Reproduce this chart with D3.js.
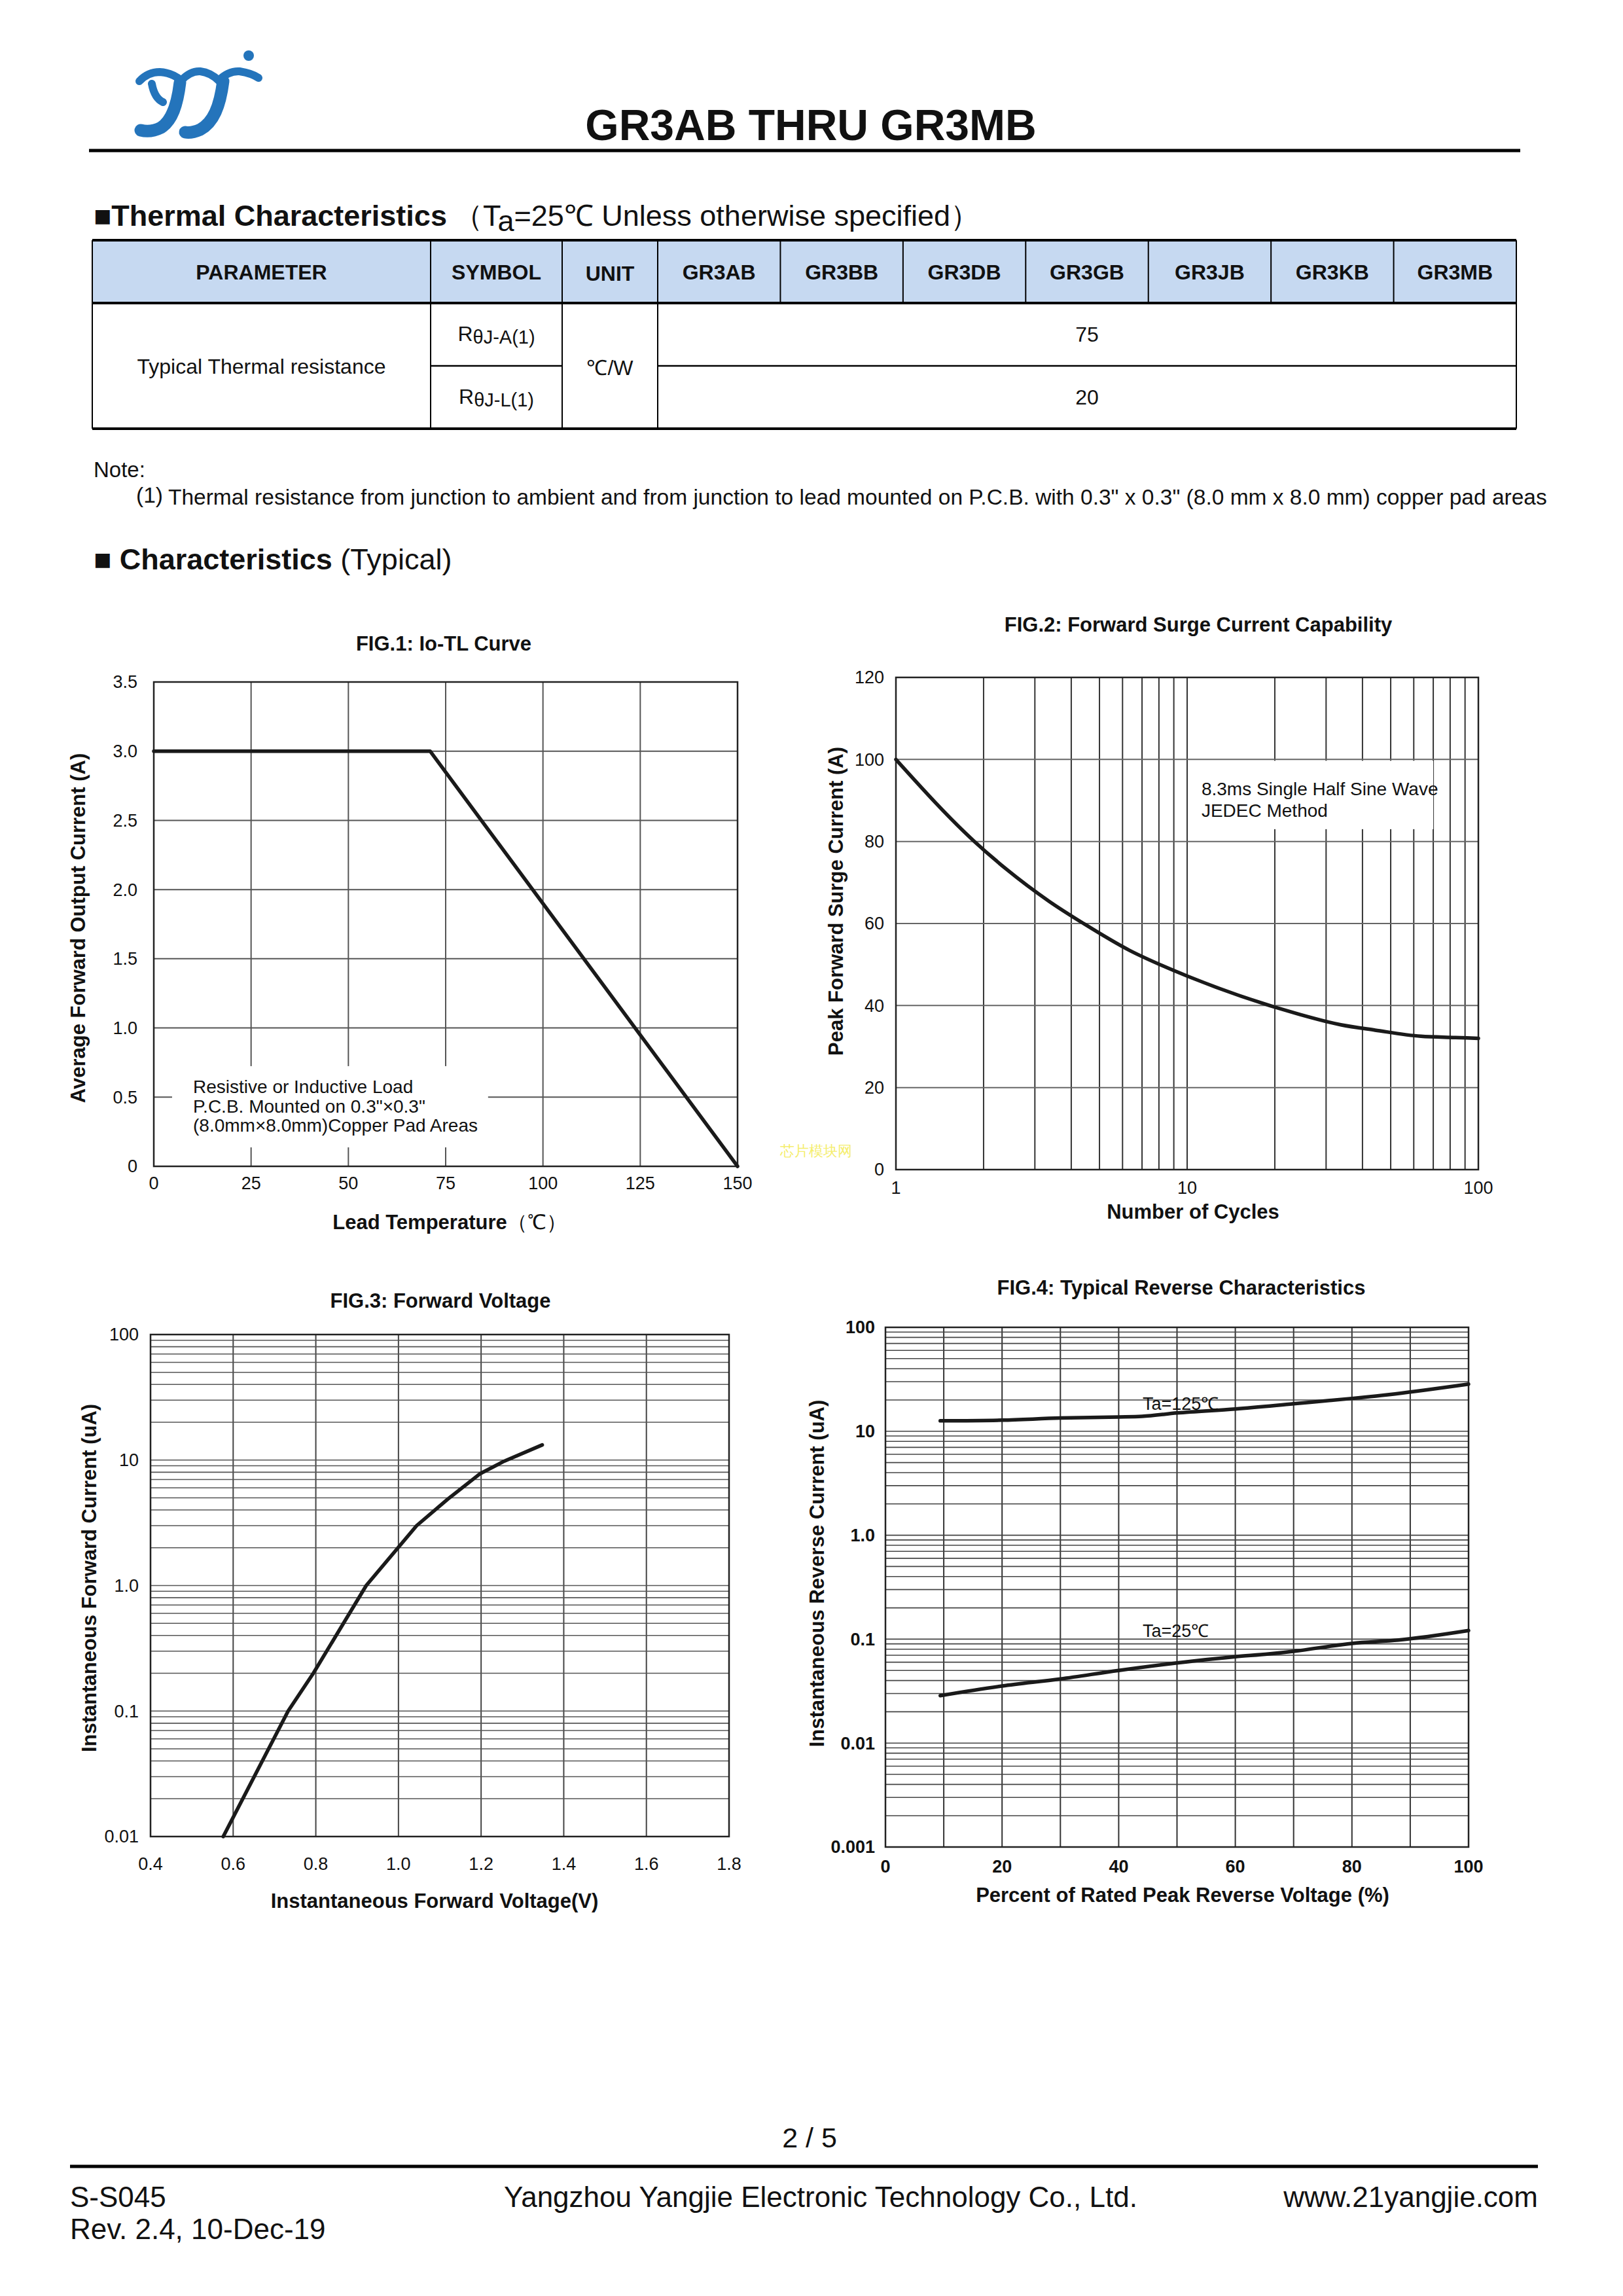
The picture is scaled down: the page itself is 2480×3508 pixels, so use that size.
<!DOCTYPE html>
<html><head><meta charset="utf-8">
<script src="https://cdn.jsdelivr.net/npm/d3@7"></script>
<style>
body{margin:0;background:#fff}
svg text{font-family:'Liberation Sans',Arial,Helvetica,sans-serif;fill:#111}
</style>
</head><body>
<svg id="page" width="2480" height="3508" xmlns="http://www.w3.org/2000/svg"></svg>
<script>
// ---------------- DATA ----------------
const tableHeaders = ["PARAMETER","SYMBOL","UNIT","GR3AB","GR3BB","GR3DB","GR3GB","GR3JB","GR3KB","GR3MB"];
const thermalParameter = "Typical Thermal resistance";
const thermalSymbolSubs = ["θJ-A(1)","θJ-L(1)"];
const thermalUnit = "℃/W";
const thermalValues = [75, 20];

// FIG.1 Io-TL curve
const fig1Temp = [0, 71, 150];
const fig1Current = [3.0, 3.0, 0];
const fig1XTicks = [0, 25, 50, 75, 100, 125, 150];
const fig1YTicks = [0, 0.5, 1.0, 1.5, 2.0, 2.5, 3.0, 3.5];
const fig1YLabels = ["0","0.5","1.0","1.5","2.0","2.5","3.0","3.5"];

// FIG.2 Forward surge current
const fig2Cycles = [1, 1.86, 2.39, 3.36, 4.41, 6.36, 8.36, 10, 23.9, 33.7, 44.2, 63.5, 83.4, 100];
const fig2Current = [100, 80, 73.3, 65.4, 60, 53.4, 49.5, 47.2, 38, 35.3, 34, 32.5, 32.2, 32];
const fig2XGrid = [2,3,4,5,6,7,8,9,10,20,30,40,50,60,70,80,90];
const fig2XTicks = [1, 10, 100];
const fig2YTicks = [0, 20, 40, 60, 80, 100, 120];

// FIG.3 Forward voltage
const fig3Voltage = [0.576, 0.733, 0.794, 0.922, 1.044, 1.12, 1.198, 1.256, 1.348];
const fig3Current = [0.01, 0.1, 0.2, 1.0, 3.0, 4.9, 7.8, 9.8, 13.2];
const fig3XTicks = [0.4, 0.6, 0.8, 1.0, 1.2, 1.4, 1.6, 1.8];
const fig3XLabels = ["0.4","0.6","0.8","1.0","1.2","1.4","1.6","1.8"];
const fig3YTicks = [0.01, 0.1, 1, 10, 100];
const fig3YLabels = ["0.01","0.1","1.0","10","100"];

// FIG.4 Reverse characteristics
const fig4Percent125 = [9.4, 20, 30, 40, 44, 50, 60, 70, 80, 87.4, 100];
const fig4Current125 = [12.6, 12.8, 13.4, 13.7, 13.9, 15.0, 16.4, 18.4, 20.7, 22.9, 28.4];
const fig4Percent25 = [9.4, 20, 30, 40, 50, 60, 65.7, 70, 80, 88, 100];
const fig4Current25 = [0.0286, 0.0354, 0.0414, 0.050, 0.059, 0.0677, 0.072, 0.0764, 0.091, 0.098, 0.121];
const fig4XTicks = [0, 20, 40, 60, 80, 100];
const fig4XGrid = [10, 20, 30, 40, 50, 60, 70, 80, 90];
const fig4YTicks = [0.001, 0.01, 0.1, 1, 10, 100];
const fig4YLabels = ["0.001","0.01","0.1","1.0","10","100"];

// ---------------- DRAW ----------------
const svg = d3.select("#page");
const INK = "#1a1a1a";

function logMinors(lo, hi){ const out=[]; for(let e=lo;e<hi;e++){for(let k=1;k<10;k++){out.push(k*Math.pow(10,e));}} out.push(Math.pow(10,hi)); return out; }

// ---- Header / logo ----
const BLUE = "#2474BB";
const logo = svg.append("g").attr("fill","none").attr("stroke",BLUE).attr("stroke-linecap","round");
logo.append("path").attr("stroke-width",12).attr("d","M213,124 Q226,110 244,110 Q263,111 277,123 Q291,108 306,109 Q322,111 334,123 Q349,108 366,109 Q385,112 395,119");
logo.append("path").attr("stroke-width",12).attr("d","M232,128 Q236,150 249,156");
logo.append("path").attr("stroke-width",19).attr("d","M275,126 C271,160 263,184 246,195 Q230,203 215,199");
logo.append("path").attr("stroke-width",19).attr("d","M341,124 C336,163 326,187 306,198 Q292,204 283,202");
svg.append("circle").attr("cx",380).attr("cy",85).attr("r",8).attr("fill",BLUE);

svg.append("text").attr("x",1239).attr("y",214).attr("text-anchor","middle")
  .attr("font-size",66).attr("font-weight","bold").text("GR3AB THRU GR3MB");
svg.append("line").attr("x1",136).attr("x2",2323).attr("y1",230).attr("y2",230).attr("stroke","#000").attr("stroke-width",5);

// ---- Thermal section title ----
const st = svg.append("text").attr("x",143).attr("y",345).attr("font-size",45);
st.append("tspan").attr("font-weight","bold").text("■Thermal Characteristics");
st.append("tspan").attr("dx",10).text("（T");
st.append("tspan").attr("dy",8).text("a");
st.append("tspan").attr("dy",-8).text("=25℃ Unless otherwise specified）");

// ---- Table ----
const colX = [141, 658, 859, 1005];
const gW = (2317-1005)/7;
for(let i=1;i<=7;i++) colX.push(1005+gW*i);
const rowY = [367, 463, 559, 655];
const tb = svg.append("g");
tb.append("rect").attr("x",colX[0]).attr("y",rowY[0]).attr("width",colX[10]-colX[0]).attr("height",rowY[1]-rowY[0]).attr("fill","#C6D9F1");
colX.forEach((cx,i)=>{
  const full = i<=3 || i===10;
  tb.append("line").attr("x1",cx).attr("x2",cx).attr("y1",rowY[0]).attr("y2", full?rowY[3]:rowY[1]).attr("stroke","#000").attr("stroke-width",2);
});
[0,1,3].forEach(r=>tb.append("line").attr("x1",colX[0]).attr("x2",colX[10]).attr("y1",rowY[r]).attr("y2",rowY[r]).attr("stroke","#000").attr("stroke-width",4));
tb.append("line").attr("x1",colX[1]).attr("x2",colX[2]).attr("y1",rowY[2]).attr("y2",rowY[2]).attr("stroke","#000").attr("stroke-width",2.5);
tb.append("line").attr("x1",colX[3]).attr("x2",colX[10]).attr("y1",rowY[2]).attr("y2",rowY[2]).attr("stroke","#000").attr("stroke-width",2.5);
tableHeaders.forEach((h,i)=>{
  tb.append("text").attr("x",(colX[i]+colX[i+1])/2).attr("y",(i===2?429:427)).attr("text-anchor","middle")
    .attr("font-size",32).attr("font-weight","bold").text(h);
});
tb.append("text").attr("x",(colX[0]+colX[1])/2).attr("y",571).attr("text-anchor","middle").attr("font-size",32).text(thermalParameter);
tb.append("text").attr("x",(colX[2]+colX[3])/2).attr("y",573).attr("text-anchor","middle").attr("font-size",32).text(thermalUnit);
thermalValues.forEach((v,i)=>{
  const cy = (rowY[i+1]+rowY[i+2])/2;
  const s = tb.append("text").attr("x",(colX[1]+colX[2])/2).attr("y",cy+10).attr("text-anchor","middle").attr("font-size",32);
  s.append("tspan").text("R");
  s.append("tspan").attr("font-size",29).attr("dy",4).text(thermalSymbolSubs[i]);
  tb.append("text").attr("x",(colX[3]+colX[10])/2).attr("y",cy+11).attr("text-anchor","middle").attr("font-size",32).text(v);
});

// ---- Note ----
svg.append("text").attr("x",143).attr("y",729).attr("font-size",33).text("Note:");
const nt = svg.append("text").attr("x",208).attr("y",771).attr("font-size",33.5);
nt.append("tspan").attr("dy",-3).text("(1)");
nt.append("tspan").attr("dy",3).attr("dx",8).text("Thermal resistance from junction to ambient and from junction to lead mounted on P.C.B. with 0.3\" x 0.3\" (8.0 mm x 8.0 mm) copper pad areas");

// ---- Characteristics title ----
const ct = svg.append("text").attr("x",143).attr("y",870).attr("font-size",45);
ct.append("tspan").attr("font-weight","bold").text("■ Characteristics");
ct.append("tspan").text(" (Typical)");

// ---------- generic helpers ----------
function hLines(g, vals, x, y, color, w){
  g.selectAll(null).data(vals).join("line").attr("x1",x.range()[0]).attr("x2",x.range()[1])
    .attr("y1",d=>y(d)).attr("y2",d=>y(d)).attr("stroke",color).attr("stroke-width",w);
}
function vLines(g, vals, x, y, color, w){
  g.selectAll(null).data(vals).join("line").attr("y1",y.range()[0]).attr("y2",y.range()[1])
    .attr("x1",d=>x(d)).attr("x2",d=>x(d)).attr("stroke",color).attr("stroke-width",w);
}
function frame(g,x,y){
  g.append("rect").attr("x",x.range()[0]).attr("y",y.range()[1]).attr("width",x.range()[1]-x.range()[0])
   .attr("height",y.range()[0]-y.range()[1]).attr("fill","none").attr("stroke","#222").attr("stroke-width",2.5);
}
function curve(g, xs, ys, x, y, c){
  const pts = xs.map((v,i)=>[v, ys[i]]);
  g.append("path").datum(pts).attr("fill","none").attr("stroke",INK).attr("stroke-width",5.5)
   .attr("stroke-linejoin","round").attr("stroke-linecap","round")
   .attr("d", d3.line().x(d=>x(d[0])).y(d=>y(d[1])).curve(c||d3.curveLinear));
}
function yLabels(g, vals, labels, x0, y, bold){
  g.selectAll(null).data(vals).join("text").attr("x",x0).attr("y",d=>y(d)).attr("dy","0.35em")
    .attr("text-anchor","end").attr("font-size",27).attr("font-weight",bold?"bold":"normal").text((d,i)=>labels[i]);
}
function xLabels(g, vals, labels, x, yb, bold){
  g.selectAll(null).data(vals).join("text").attr("x",d=>x(d)).attr("y",yb)
    .attr("text-anchor","middle").attr("font-size",27).attr("font-weight",bold?"bold":"normal").text((d,i)=>labels[i]);
}
const TFS = 31;
function title(txt, cx, y){ svg.append("text").attr("x",cx).attr("y",y).attr("text-anchor","middle").attr("font-size",TFS).attr("font-weight","bold").text(txt); }
function yTitle(txt, cx, cy){ svg.append("text").attr("transform",`translate(${cx},${cy}) rotate(-90)`).attr("dy","0.35em").attr("text-anchor","middle").attr("font-size",TFS).attr("font-weight","bold").text(txt); }
function xTitle(txt, cx, y){ return svg.append("text").attr("x",cx).attr("y",y).attr("text-anchor","middle").attr("font-size",TFS).attr("font-weight","bold").text(txt); }

// ---------- FIG.1 ----------
{
  const x = d3.scaleLinear().domain([0,150]).range([235,1127]);
  const y = d3.scaleLinear().domain([0,3.5]).range([1782,1042]);
  const g = svg.append("g");
  vLines(g, fig1XTicks, x, y, "#555", 2);
  hLines(g, fig1YTicks, x, y, "#555", 2);
  g.append("rect").attr("x",x(4.7)).attr("y",y(0.724)).attr("width",x(85.9)-x(4.7)).attr("height",y(0.137)-y(0.724)).attr("fill","#fff");
  frame(g,x,y);
  curve(g, fig1Temp, fig1Current, x, y);
  const ann = ["Resistive or Inductive Load","P.C.B. Mounted on 0.3\"×0.3\"","(8.0mm×8.0mm)Copper Pad Areas"];
  const annY = [0.53, 0.39, 0.25];
  g.selectAll(null).data(ann).join("text").attr("x",x(10.1)).attr("y",(d,i)=>y(annY[i])).attr("font-size",28).attr("fill","#222").text(d=>d);
  yLabels(g, fig1YTicks, fig1YLabels, 210, y);
  xLabels(g, fig1XTicks, fig1XTicks.map(String), x, 1817);
  title("FIG.1: Io-TL Curve", 678, 994);
  xTitle("Lead Temperature", 687, 1878).append("tspan").attr("font-weight","normal").text("（℃）");
  yTitle("Average Forward Output Current (A)", 119, 1418);
}

// ---------- FIG.2 ----------
{
  const x = d3.scaleLog().domain([1,100]).range([1369,2259]);
  const y = d3.scaleLinear().domain([0,120]).range([1787,1035]);
  const g = svg.append("g");
  vLines(g, fig2XGrid, x, y, "#333", 2);
  hLines(g, fig2YTicks, x, y, "#666", 2);
  g.append("rect").attr("x",x(10.5)).attr("y",y(100)+2).attr("width",x(70)-x(10.5)).attr("height",y(83)-y(100)-2).attr("fill","#fff");
  frame(g,x,y);
  curve(g, fig2Cycles, fig2Current, x, y, d3.curveMonotoneX);
  g.append("text").attr("x",x(11.2)).attr("y",y(91.3)).attr("font-size",28).attr("fill","#222").text("8.3ms Single Half Sine Wave");
  g.append("text").attr("x",x(11.2)).attr("y",y(86)).attr("font-size",28).attr("fill","#222").text("JEDEC Method");
  yLabels(g, fig2YTicks, fig2YTicks.map(String), 1351, y);
  xLabels(g, fig2XTicks, fig2XTicks.map(String), x, 1824);
  title("FIG.2: Forward Surge Current Capability", 1831, 965);
  xTitle("Number of Cycles", 1823, 1862);
  yTitle("Peak Forward Surge Current (A)", 1277, 1377);
  svg.append("text").attr("x",1192).attr("y",1766).attr("font-size",22).style("fill","#f5ee6e").attr("font-family","'Noto Sans CJK SC'").text("芯片模块网");
}

// ---------- FIG.3 ----------
{
  const x = d3.scaleLinear().domain([0.4,1.8]).range([230,1114]);
  const y = d3.scaleLog().domain([0.01,100]).range([2806,2039]);
  const g = svg.append("g");
  vLines(g, fig3XTicks, x, y, "#444", 2);
  hLines(g, logMinors(-2,2), x, y, "#555", 1.6);
  frame(g,x,y);
  curve(g, fig3Voltage, fig3Current, x, y);
  yLabels(g, fig3YTicks, fig3YLabels, 212, y);
  xLabels(g, fig3XTicks, fig3XLabels, x, 2857);
  title("FIG.3: Forward Voltage", 673, 1998);
  xTitle("Instantaneous Forward Voltage(V)", 664, 2915);
  yTitle("Instantaneous Forward Current (uA)", 136, 2411);
}

// ---------- FIG.4 ----------
{
  const x = d3.scaleLinear().domain([0,100]).range([1353,2244]);
  const y = d3.scaleLog().domain([0.001,100]).range([2822,2028]);
  const g = svg.append("g");
  vLines(g, fig4XGrid, x, y, "#333", 2);
  hLines(g, logMinors(-3,2), x, y, "#444", 1.6);
  frame(g,x,y);
  curve(g, fig4Percent125, fig4Current125, x, y, d3.curveMonotoneX);
  curve(g, fig4Percent25, fig4Current25, x, y, d3.curveMonotoneX);
  g.append("text").attr("x",x(44.1)).attr("y",y(16)).attr("font-size",27).attr("fill","#222").text("Ta=125℃");
  g.append("text").attr("x",x(44.1)).attr("y",y(0.105)).attr("font-size",27).attr("fill","#222").text("Ta=25℃");
  yLabels(g, fig4YTicks, fig4YLabels, 1337, y, true);
  xLabels(g, fig4XTicks, fig4XTicks.map(String), x, 2861, true);
  title("FIG.4: Typical Reverse Characteristics", 1805, 1978);
  xTitle("Percent of Rated Peak Reverse Voltage (%)", 1807, 2906);
  yTitle("Instantaneous Reverse Current (uA)", 1248, 2404);
}

// ---- Footer ----
svg.append("text").attr("x",1237).attr("y",3281).attr("text-anchor","middle").attr("font-size",43).text("2 / 5");
svg.append("line").attr("x1",107).attr("x2",2350).attr("y1",3310).attr("y2",3310).attr("stroke","#000").attr("stroke-width",5);
svg.append("text").attr("x",107).attr("y",3372).attr("font-size",44).text("S-S045");
svg.append("text").attr("x",107).attr("y",3421).attr("font-size",44).text("Rev. 2.4, 10-Dec-19");
svg.append("text").attr("x",1254).attr("y",3372).attr("text-anchor","middle").attr("font-size",44).text("Yangzhou Yangjie Electronic Technology Co., Ltd.");
svg.append("text").attr("x",2350).attr("y",3372).attr("text-anchor","end").attr("font-size",44).text("www.21yangjie.com");
</script>
</body></html>
